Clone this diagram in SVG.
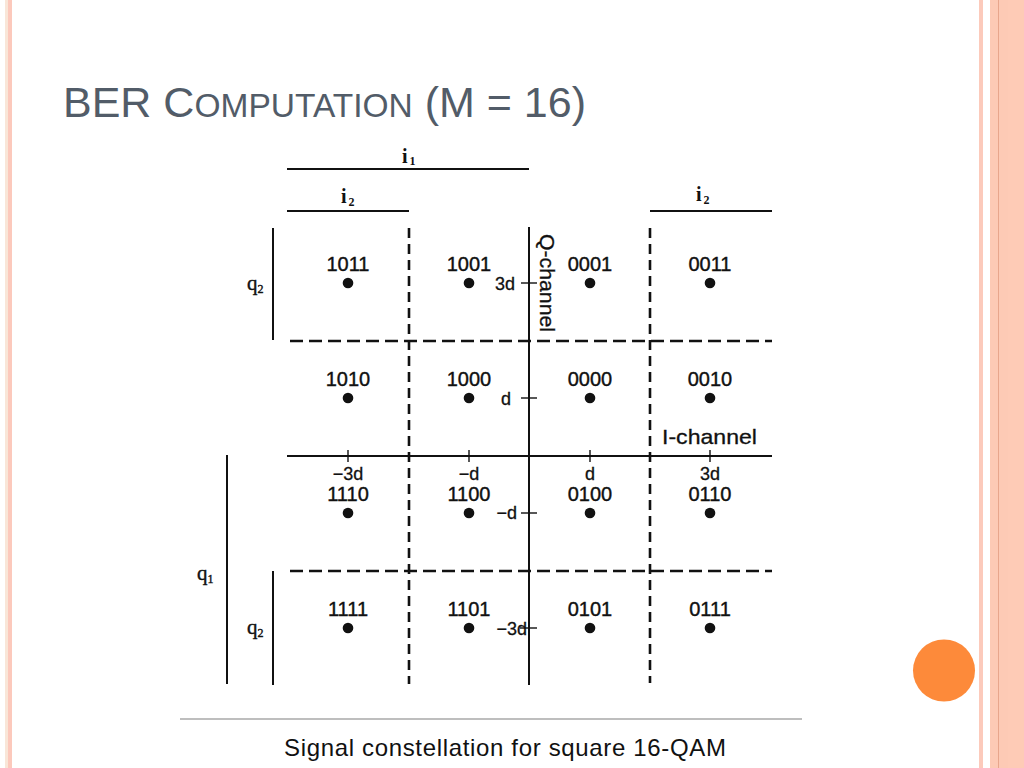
<svg xmlns="http://www.w3.org/2000/svg" width="1024" height="768" viewBox="0 0 1024 768">
<style>
.solid{stroke:#111;stroke-width:2;fill:none}
.dash{stroke:#111;stroke-width:2.6;fill:none}
.dh{stroke-dasharray:13 6}
.dv{stroke-dasharray:10 6}
.tick{stroke:#111;stroke-width:1.4}
.lbl{font-family:"Liberation Sans",Arial,sans-serif;font-size:20px;fill:#111;stroke:#111;stroke-width:0.4px;text-anchor:middle}
.ax{font-family:"Liberation Sans",Arial,sans-serif;font-size:18px;fill:#111;stroke:#111;stroke-width:0.3px}
.chan{font-family:"Liberation Sans",Arial,sans-serif;font-size:21px;fill:#111;stroke:#111;stroke-width:0.3px}
.isym{font-family:"Liberation Serif","Times New Roman",serif;font-weight:bold;font-size:20px;fill:#111}
.qsym{font-family:"Liberation Serif","Times New Roman",serif;font-size:21px;fill:#111;stroke:#111;stroke-width:0.4px}
.sub{font-size:12px}
.dot{fill:#111}
</style>
<rect width="1024" height="768" fill="#ffffff"/>
<g id="border">
<rect x="5" y="0" width="3" height="768" fill="#f9e6d8"/>
<rect x="8" y="0" width="4" height="768" fill="#fcc9bc"/>
<rect x="979" y="0" width="4" height="768" fill="#fccabb"/>
<rect x="990" y="0" width="34" height="768" fill="#fdcab5"/>
<rect x="1008" y="0" width="16" height="768" fill="#fecbb6"/>
<line x1="998.5" y1="0" x2="998.5" y2="768" stroke="#e8a68c" stroke-width="1"/>
<circle cx="944" cy="670.5" r="31" fill="#fd8a3a"/>
</g>
<g id="title" font-family="'Liberation Sans',Arial,sans-serif" fill="#525c68">
<text x="63" y="117" font-size="43">BER C<tspan font-size="33.5">OMPUTATION</tspan> (M = 16)</text>
</g>
<g id="connectors">
<line class="solid" x1="287" y1="169" x2="529" y2="169"/>
<line class="solid" x1="287" y1="211" x2="409" y2="211"/>
<line class="solid" x1="650" y1="211" x2="772" y2="211"/>
<line class="solid" x1="273" y1="228" x2="273" y2="340"/>
<line class="solid" x1="227" y1="455" x2="227" y2="684"/>
<line class="solid" x1="273" y1="571" x2="273" y2="685"/>
<line class="dash dh" x1="290" y1="341" x2="772" y2="341"/>
<line class="dash dh" x1="290" y1="571" x2="772" y2="571"/>
<line class="dash dv" x1="409" y1="228" x2="409" y2="684"/>
<line class="dash dv" x1="650" y1="228" x2="650" y2="683"/>
<line class="solid" x1="529" y1="227" x2="529" y2="685"/>
<line class="solid" x1="287" y1="456" x2="772" y2="456"/>
<line class="tick" x1="521" y1="283" x2="537" y2="283"/>
<line class="tick" x1="521" y1="398" x2="537" y2="398"/>
<line class="tick" x1="521" y1="513" x2="537" y2="513"/>
<line class="tick" x1="520" y1="628" x2="537" y2="628"/>
<line class="tick" x1="348" y1="450" x2="348" y2="462"/>
<line class="tick" x1="469" y1="450" x2="469" y2="462"/>
<line class="tick" x1="590" y1="450" x2="590" y2="462"/>
<line class="tick" x1="710" y1="450" x2="710" y2="462"/>
</g>
<g id="bracket-labels">
<text class="isym" x="402" y="163">i<tspan class="sub" dx="2" dy="2">1</tspan></text>
<text class="isym" x="341" y="203">i<tspan class="sub" dx="2" dy="3">2</tspan></text>
<text class="isym" x="696" y="201">i<tspan class="sub" dx="2" dy="3">2</tspan></text>
<text class="qsym" x="247" y="290">q<tspan class="sub" dy="3">2</tspan></text>
<text class="qsym" x="197" y="580">q<tspan class="sub" dy="3">1</tspan></text>
<text class="qsym" x="247" y="634">q<tspan class="sub" dy="3">2</tspan></text>
</g>
<g id="axis-labels">
<text class="chan" x="0" y="0" textLength="98" lengthAdjust="spacingAndGlyphs" transform="translate(540,234) rotate(90)">Q-channel</text>
<text class="chan" x="662" y="444" textLength="95" lengthAdjust="spacingAndGlyphs">I-channel</text>
<text class="ax" x="515" y="290" text-anchor="end">3d</text>
<text class="ax" x="511" y="405" text-anchor="end">d</text>
<text class="ax" x="517" y="519" text-anchor="end">−d</text>
<text class="ax" x="527" y="635" text-anchor="end">−3d</text>
<text class="ax" x="348" y="480" text-anchor="middle">−3d</text>
<text class="ax" x="469" y="480" text-anchor="middle">−d</text>
<text class="ax" x="590" y="480" text-anchor="middle">d</text>
<text class="ax" x="710" y="480" text-anchor="middle">3d</text>
</g>
<g id="p1011"><text class="lbl" x="348" y="271">1011</text><circle class="dot" cx="348" cy="283" r="5.3"/></g>
<g id="p1001"><text class="lbl" x="469" y="271">1001</text><circle class="dot" cx="469" cy="283" r="5.3"/></g>
<g id="p0001"><text class="lbl" x="590" y="271">0001</text><circle class="dot" cx="590" cy="283" r="5.3"/></g>
<g id="p0011"><text class="lbl" x="710" y="271">0011</text><circle class="dot" cx="710" cy="283" r="5.3"/></g>
<g id="p1010"><text class="lbl" x="348" y="386">1010</text><circle class="dot" cx="348" cy="398" r="5.3"/></g>
<g id="p1000"><text class="lbl" x="469" y="386">1000</text><circle class="dot" cx="469" cy="398" r="5.3"/></g>
<g id="p0000"><text class="lbl" x="590" y="386">0000</text><circle class="dot" cx="590" cy="398" r="5.3"/></g>
<g id="p0010"><text class="lbl" x="710" y="386">0010</text><circle class="dot" cx="710" cy="398" r="5.3"/></g>
<g id="p1110"><text class="lbl" x="348" y="501">1110</text><circle class="dot" cx="348" cy="513" r="5.3"/></g>
<g id="p1100"><text class="lbl" x="469" y="501">1100</text><circle class="dot" cx="469" cy="513" r="5.3"/></g>
<g id="p0100"><text class="lbl" x="590" y="501">0100</text><circle class="dot" cx="590" cy="513" r="5.3"/></g>
<g id="p0110"><text class="lbl" x="710" y="501">0110</text><circle class="dot" cx="710" cy="513" r="5.3"/></g>
<g id="p1111"><text class="lbl" x="348" y="616">1111</text><circle class="dot" cx="348" cy="628" r="5.3"/></g>
<g id="p1101"><text class="lbl" x="469" y="616">1101</text><circle class="dot" cx="469" cy="628" r="5.3"/></g>
<g id="p0101"><text class="lbl" x="590" y="616">0101</text><circle class="dot" cx="590" cy="628" r="5.3"/></g>
<g id="p0111"><text class="lbl" x="710" y="616">0111</text><circle class="dot" cx="710" cy="628" r="5.3"/></g>
<g id="caption">
<line x1="180" y1="719" x2="802" y2="719" stroke="#a8a8a8" stroke-width="1.5"/>
<text x="505" y="756" font-family="'Liberation Sans',Arial,sans-serif" font-size="24" text-anchor="middle" fill="#111" textLength="442">Signal constellation for square 16-QAM</text>
</g>
</svg>
